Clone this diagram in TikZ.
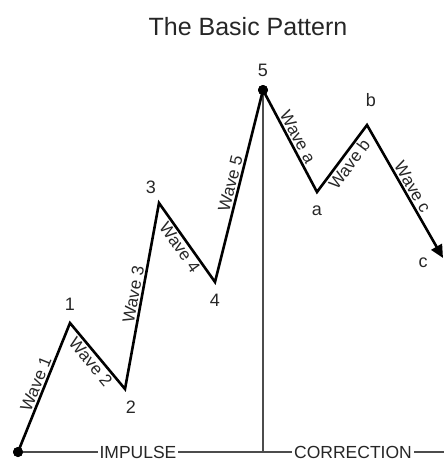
\documentclass[tikz,border=0pt]{standalone}
\usepackage{fontspec}
\setmainfont{Liberation Sans}
\usetikzlibrary{arrows.meta}
\begin{document}
\begin{tikzpicture}[x=1pt,y=-1pt,
  wave/.style={line width=2.6pt,line join=miter,black},
  guide/.style={line width=1.6pt,black!70},
  lbl/.style={font=\fontsize{18}{20}\selectfont,text=black!85,inner sep=1pt},
  blbl/.style={font=\fontsize{17.5}{20}\selectfont,text=black!85,fill=white,inner xsep=2pt,inner ysep=0pt,text depth=0pt,anchor=base},
  wlbl/.style={font=\fontsize{17}{19}\selectfont,text=black!85,sloped,midway,inner sep=1.5pt},
  pt/.style={circle,fill=black,inner sep=0pt,minimum size=10pt}]
\useasboundingbox (0,0) rectangle (444,459);
\node[font=\fontsize{25}{28}\selectfont,text=black!85] (title) at (248,27) {The Basic Pattern};
% points
\node[pt] (p0) at (18,452) {};
\coordinate (p1) at (70,323);
\coordinate (p2) at (125,389);
\coordinate (p3) at (159,203);
\coordinate (p4) at (215,282);
\node[pt] (p5) at (263,90) {};
\coordinate (pa) at (317,192);
\coordinate (pb) at (367,125);
\coordinate (pc) at (443,258);
\coordinate (base5) at (263,452);
\coordinate (bend) at (444,452);
% guides
\draw[guide] (p0.center) -- (bend);
\draw[guide] (p5.center) -- (base5);
\node[blbl] (imp) at (138,458) {IMPULSE};
\node[blbl] (cor) at (353,458) {CORRECTION};
% waves
\draw[wave] (p0.center) -- node[wlbl,above] {Wave 1} (p1)
  -- node[wlbl,below] {Wave 2} (p2)
  -- node[wlbl,above] {Wave 3} (p3)
  -- node[wlbl,below] {Wave 4} (p4)
  -- node[wlbl,above] {Wave 5} (p5.center);
\draw[wave,-{Triangle[length=13pt,width=12pt]}] (p5.center)
  -- node[wlbl,above] {Wave a} (pa)
  -- node[wlbl,below] {Wave b} (pb)
  -- node[wlbl,above] {Wave c} (pc);
\node[pt] at (p5) {};
\node[pt] at (p0) {};
% point labels
\node[lbl] (l1) at (70,304) {1};
\node[lbl] (l2) at (131,407) {2};
\node[lbl] (l3) at (151,187) {3};
\node[lbl] (l4) at (215,300) {4};
\node[lbl] (l5) at (263,70) {5};
\node[lbl] (la) at (317,211) {a};
\node[lbl] (lb) at (371,100) {b};
\node[lbl] (lc) at (423,263) {c};
\end{tikzpicture}
\end{document}
